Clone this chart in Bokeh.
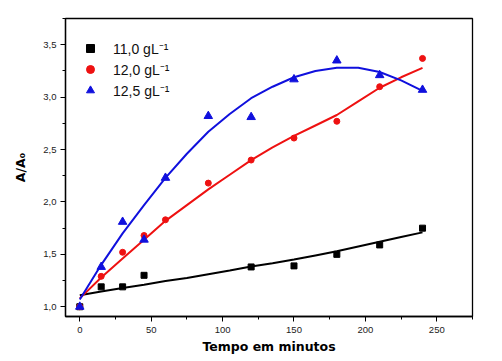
from bokeh.plotting import figure
from bokeh.models import Range1d, FixedTicker, Legend, LegendItem
from bokeh.embed import file_html
from bokeh.resources import INLINE

# Measured data (time in minutes, A/A0)
t_black = [0, 15, 30, 45, 120, 150, 180, 210, 240]
v_black = [1.00, 1.19, 1.19, 1.30, 1.38, 1.39, 1.50, 1.59, 1.75]

t_red = [0, 15, 30, 45, 60, 90, 120, 150, 180, 210, 240]
v_red = [1.00, 1.29, 1.52, 1.68, 1.83, 2.18, 2.40, 2.61, 2.77, 3.10, 3.37]

t_blue = [0, 15, 30, 45, 60, 90, 120, 150, 180, 210, 240]
v_blue = [1.00, 1.38, 1.81, 1.64, 2.23, 2.82, 2.81, 3.17, 3.35, 3.21, 3.07]

# Fitted curves
fit_t = [0, 15, 30, 45, 60, 75, 90, 105, 120, 135, 150, 165, 180, 195, 210, 225, 240]
fit_black = [1.11, 1.145, 1.18, 1.21, 1.245, 1.275, 1.31, 1.345, 1.385, 1.415,
             1.45, 1.49, 1.53, 1.575, 1.62, 1.665, 1.71]
fit_red = [1.08, 1.28, 1.46, 1.64, 1.82, 1.97, 2.12, 2.26, 2.40, 2.52,
           2.63, 2.73, 2.83, 2.96, 3.09, 3.19, 3.28]
fit_blue = [1.07, 1.40, 1.70, 1.97, 2.23, 2.46, 2.67, 2.84, 2.99, 3.10,
            3.19, 3.25, 3.28, 3.28, 3.24, 3.16, 3.06]

labels = ["11,0 gL\u207b\u00b9", "12,0 gL\u207b\u00b9", "12,5 gL\u207b\u00b9"]

x_ticks = [0, 50, 100, 150, 200, 250]
x_minor = [25, 75, 125, 175, 225, 275]
y_ticks = [1.0, 1.5, 2.0, 2.5, 3.0, 3.5]
y_minor = [1.25, 1.75, 2.25, 2.75, 3.25, 3.75]
y_tick_labels = ["1,0", "1,5", "2,0", "2,5", "3,0", "3,5"]

p = figure(frame_width=407, frame_height=298, output_backend="svg",
           toolbar_location=None, x_range=Range1d(-10, 275),
           y_range=Range1d(0.907, 3.751),
           min_border_left=65, min_border_right=30, min_border_top=18,
           min_border_bottom=45)
p.background_fill_color = "white"
p.border_fill_color = "white"
p.outline_line_color = "black"
p.outline_line_width = 1.3
p.xgrid.visible = False
p.ygrid.visible = False

p.xaxis.ticker = FixedTicker(ticks=x_ticks, minor_ticks=x_minor)
p.yaxis.ticker = FixedTicker(ticks=y_ticks, minor_ticks=y_minor)
p.yaxis.major_label_overrides = {v: s for v, s in zip(y_ticks, y_tick_labels)}

for ax in (p.xaxis[0], p.yaxis[0]):
    ax.axis_line_color = "black"
    ax.axis_line_width = 1.3
    ax.major_tick_in = 0
    ax.major_tick_out = 5
    ax.minor_tick_in = 0
    ax.minor_tick_out = 3
    ax.major_tick_line_color = "black"
    ax.minor_tick_line_color = "black"
    ax.major_label_text_font = "Liberation Sans"
    ax.major_label_text_font_size = "9.5px"
    ax.major_label_text_color = "#222222"
    ax.axis_label_text_font = "DejaVu Sans"
    ax.axis_label_text_font_style = "bold"
    ax.axis_label_text_font_size = "12.5px"
    ax.axis_label_text_color = "black"

p.xaxis.axis_label = "Tempo em minutos"
p.yaxis.axis_label = "A/A\u2080"
p.xaxis.major_label_standoff = 5
p.xaxis.axis_label_standoff = 3
p.yaxis.major_label_standoff = 4
p.yaxis.axis_label_standoff = 12

p.line(fit_t, fit_black, line_color="black", line_width=2)
p.line(fit_t, fit_red, line_color="#ee1111", line_width=2)
p.line(fit_t, fit_blue, line_color="#1010dd", line_width=2)

r1 = p.scatter(t_black, v_black, marker="square", size=6,
               fill_color="black", line_color="black")
r2 = p.scatter(t_red, v_red, marker="circle", size=6,
               fill_color="#ee1111", line_color="#ee1111")
r3 = p.scatter(t_blue, v_blue, marker="triangle", size=8.5,
               fill_color="#1010dd", line_color="#1010dd")

legend = Legend(items=[LegendItem(label=labels[0], renderers=[r1]),
                       LegendItem(label=labels[1], renderers=[r2]),
                       LegendItem(label=labels[2], renderers=[r3])],
                location=(15, 216), margin=0, padding=5, spacing=1,
                glyph_width=20, glyph_height=20, label_height=20,
                label_standoff=13, border_line_color=None,
                background_fill_alpha=0,
                label_text_font="Liberation Sans", label_text_font_size="14px",
                label_text_color="#111111")
p.add_layout(legend, "center")

open("out.html", "w").write(file_html(p, INLINE))
